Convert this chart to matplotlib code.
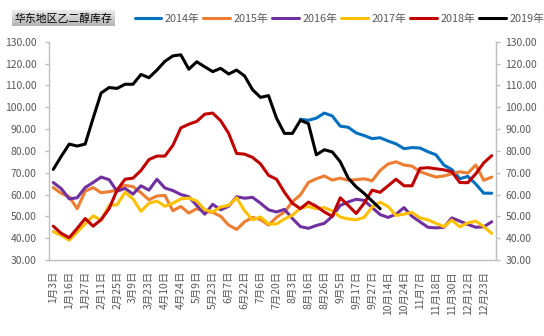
import numpy as np
import matplotlib
matplotlib.use("Agg")
import matplotlib.pyplot as plt

plt.rcParams['font.family'] = ['Noto Sans CJK SC', 'DejaVu Sans']

title = "华东地区乙二醇库存"
tick_labels = ["1月3日", "1月16日", "1月27日", "2月11日", "2月25日", "3月9日", "3月23日",
               "4月10日", "4月24日", "5月9日", "5月23日", "6月7日", "6月22日", "7月6日",
               "7月20日", "8月3日", "8月16日", "8月26日", "9月5日", "9月17日", "9月27日",
               "10月14日", "10月24日", "11月7日", "11月18日", "11月30日", "12月12日", "12月23日"]
n_points = 56

s2014_start = 31
s2014 = [94.5, 94.0, 95.0, 97.3, 96.0, 91.3, 90.8, 88.2, 87.0, 85.6, 86.0, 84.5, 83.2,
         81.0, 81.5, 81.3, 79.6, 78.2, 73.5, 71.4, 67.2, 68.3, 64.8, 60.6, 60.6]
s2015 = [63.2, 60.5, 59.0, 53.5, 61.5, 63.2, 60.8, 61.3, 62.0, 64.2, 63.6, 60.8, 57.6,
         59.3, 59.6, 52.6, 54.5, 51.5, 53.5, 52.2, 51.8, 50.0, 46.0, 44.0, 47.5, 49.5,
         48.5, 46.0, 49.5, 52.0, 56.7, 59.8, 65.5, 67.2, 68.5, 66.6, 67.5, 66.5, 66.8,
         67.2, 66.3, 71.0, 74.0, 75.0, 73.5, 73.0, 70.5, 69.2, 68.0, 68.5, 69.5, 70.4,
         69.8, 73.5, 66.5, 68.0]
s2016 = [65.5, 62.7, 58.0, 58.5, 63.2, 65.5, 68.0, 66.8, 61.5, 62.8, 60.2, 64.0, 62.0,
         67.0, 63.0, 61.8, 60.0, 59.0, 55.0, 51.0, 55.5, 53.0, 54.6, 59.0, 58.3, 58.7,
         56.0, 53.0, 52.0, 53.2, 49.0, 45.3, 44.5, 45.8, 46.8, 50.0, 55.0, 56.6, 57.8,
         57.3, 54.0, 50.8, 49.5, 51.0, 54.0, 50.0, 47.5, 45.0, 44.7, 45.0, 49.3, 47.8,
         46.3, 45.0, 45.2, 47.5]
s2017 = [43.0, 41.3, 39.0, 42.8, 46.5, 50.2, 48.2, 55.0, 55.3, 61.0, 58.0, 52.3, 56.0,
         57.0, 54.6, 56.0, 58.0, 58.4, 57.0, 53.0, 52.0, 54.3, 55.0, 58.5, 52.5, 48.4,
         49.7, 46.5, 46.5, 48.8, 50.5, 53.8, 54.5, 53.5, 54.0, 52.5, 49.7, 48.8, 48.4,
         49.5, 54.3, 56.5, 54.5, 50.4, 51.0, 51.8, 49.3, 48.4, 46.8, 45.3, 48.3, 45.2,
         47.0, 47.8, 45.3, 42.2]
s2018 = [45.5, 42.2, 40.2, 44.5, 49.0, 45.5, 48.5, 53.5, 62.0, 67.0, 67.5, 71.0, 76.0,
         77.6, 77.6, 82.5, 90.5, 92.2, 93.5, 96.8, 97.3, 93.8, 88.0, 78.8, 78.5, 77.0,
         74.0, 68.8, 67.0, 61.0, 56.0, 53.5, 56.5, 54.6, 52.0, 50.0, 58.5, 55.0, 51.3,
         56.0, 62.0, 61.0, 64.0, 67.0, 64.0, 64.0, 72.0, 72.3, 71.8, 71.3, 70.4, 65.5,
         65.4, 69.5, 74.5, 77.8]
s2019 = [71.5, 77.5, 83.1, 82.2, 83.1, 95.0, 106.5, 109.0, 108.6, 110.5, 110.5, 115.0,
         113.5, 117.0, 121.0, 123.5, 124.0, 117.4, 120.8, 118.5, 116.3, 117.8, 115.2,
         117.0, 114.3, 108.0, 104.5, 105.3, 95.0, 88.0, 88.0, 94.0, 92.5, 78.2, 80.5,
         79.5, 75.0, 67.5, 63.5, 60.5, 57.0, 53.5]

series_names = ["2014年", "2015年", "2016年", "2017年", "2018年", "2019年"]
series_colors = ["#0070C0", "#ED7D31", "#7030A0", "#FFC000", "#C00000", "#000000"]
series_values = [s2014, s2015, s2016, s2017, s2018, s2019]
series_starts = [s2014_start, 0, 0, 0, 0, 0]

W, H = 544, 336
fig = plt.figure(figsize=(W / 100, H / 100), dpi=100)
x0, x1 = 49.3, 495.7
yt, yb = 41.7, 260.0
ax = fig.add_axes([x0 / W, 1 - yb / H, (x1 - x0) / W, (yb - yt) / H])

handles = []
for name, col, vals, st in zip(series_names, series_colors, series_values, series_starts):
    xs = np.arange(st, st + len(vals))
    h, = ax.plot(xs, vals, color=col, lw=2.2, solid_joinstyle='round',
                 solid_capstyle='round', label=name)
    handles.append(h)

ax.set_xlim(-0.5, n_points - 0.5)
ax.set_ylim(30, 130)
yt_vals = np.arange(30, 131, 10)
ax.set_yticks(yt_vals)
ax.set_yticklabels([f"{v:.2f}" for v in yt_vals])
ax.set_xticks(np.arange(0, 2 * len(tick_labels), 2))
ax.set_xticklabels(tick_labels, rotation=90, ha='center', va='top')

gray = "#BFBFBF"
txt = "#595959"
for sp in ['top']:
    ax.spines[sp].set_visible(False)
for sp in ['left', 'bottom', 'right']:
    ax.spines[sp].set_color(gray)
    ax.spines[sp].set_linewidth(1.0)
ax.tick_params(axis='y', direction='out', length=3, width=1, color=gray,
               labelsize=7.5, labelcolor=txt, pad=6)
ax.tick_params(axis='x', length=0, labelsize=7.5, labelcolor=txt, pad=8)

ax2 = ax.twinx()
ax2.set_ylim(30, 130)
ax2.set_yticks(yt_vals)
ax2.set_yticklabels([f"{v:.2f}" for v in yt_vals])
for sp in ['top', 'left', 'bottom']:
    ax2.spines[sp].set_visible(False)
ax2.spines['right'].set_color(gray)
ax2.tick_params(axis='y', direction='out', length=3, width=1, color=gray,
                labelsize=7.5, labelcolor=txt, pad=4)

# title box with gray gradient
bx0, bx1, by0, by1 = 11.5, 114.5, 10.4, 26.0
tax = fig.add_axes([bx0 / W, 1 - by1 / H, (bx1 - bx0) / W, (by1 - by0) / H])
grad = np.linspace(0.93, 0.70, 50).reshape(-1, 1)
tax.imshow(np.dstack([grad, grad, grad]), aspect='auto', extent=[0, 1, 0, 1])
tax.set_axis_off()
tax.text(0.5, 0.5, title, ha='center', va='center', fontsize=7.8, color='#000000',
         transform=tax.transAxes)

leg = fig.legend(handles=handles, loc='center left',
                 bbox_to_anchor=(134.6 / W, 1 - 19 / H), ncol=6, frameon=False,
                 fontsize=7.8, handlelength=2.47, handletextpad=0.32,
                 columnspacing=0.35, borderpad=0, borderaxespad=0)
for t in leg.get_texts():
    t.set_color(txt)

fig.savefig("out.png", dpi=100)
